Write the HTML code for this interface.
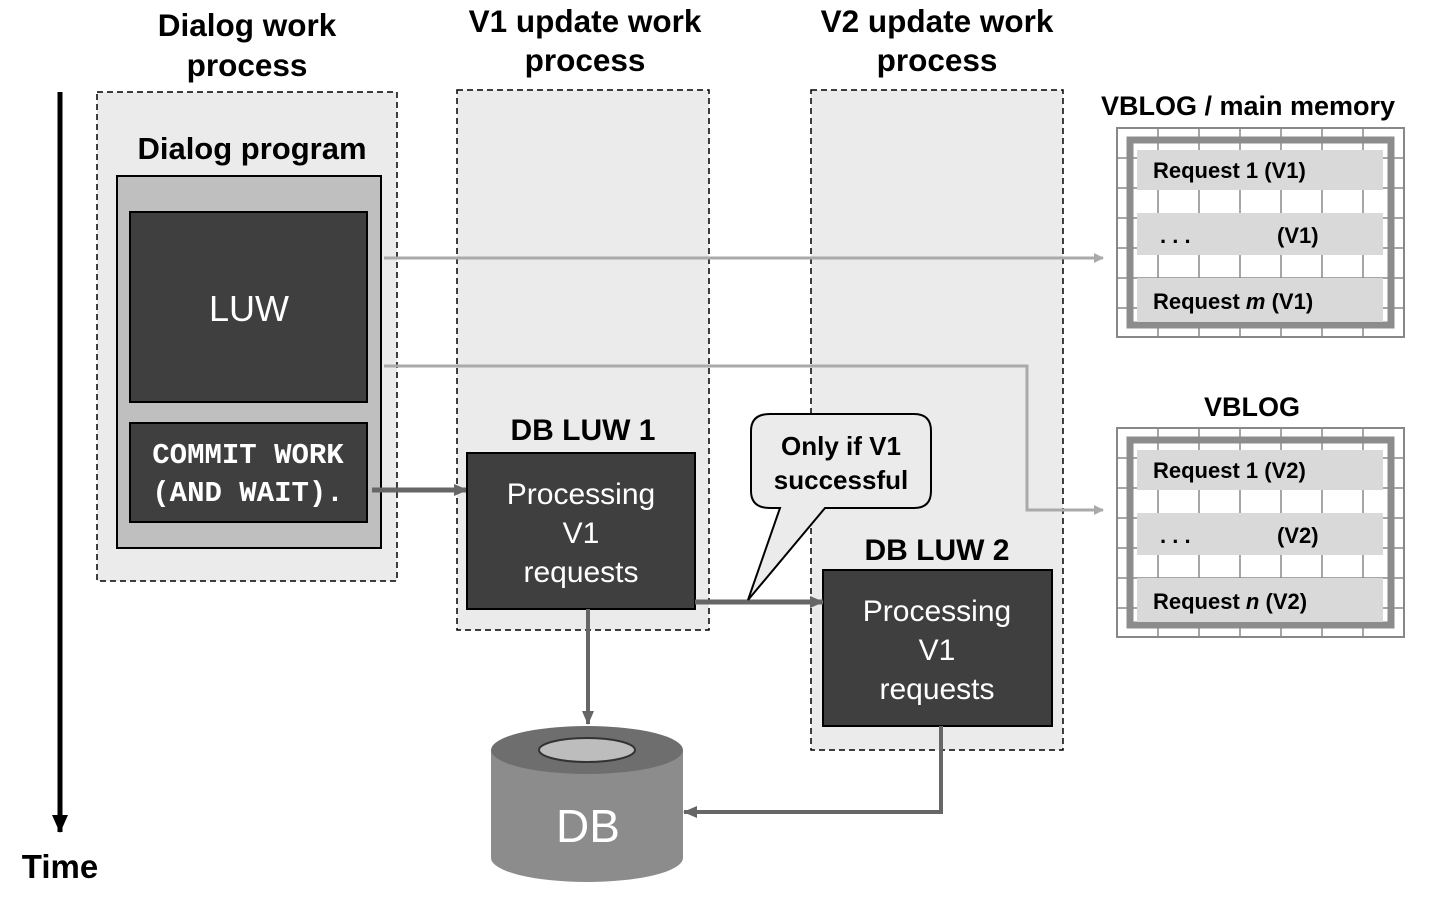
<!DOCTYPE html>
<html><head><style>
body{margin:0;background:#fff;}
svg{display:block;font-family:"Liberation Sans",Arial,sans-serif;}
</style></head><body>
<svg width="1440" height="900" viewBox="0 0 1440 900" xmlns="http://www.w3.org/2000/svg">
<defs>
<marker id="ag" markerWidth="10" markerHeight="10" refX="9" refY="5" orient="auto" markerUnits="userSpaceOnUse"><path d="M0,0 L10,5 L0,10 z" fill="#aaa"/></marker>
<marker id="ad" markerWidth="14" markerHeight="12" refX="13" refY="6" orient="auto" markerUnits="userSpaceOnUse"><path d="M0,0 L14,6 L0,12 z" fill="#666"/></marker>
<marker id="ab" markerWidth="18" markerHeight="16" refX="17" refY="8" orient="auto" markerUnits="userSpaceOnUse"><path d="M0,0 L18,8 L0,16 z" fill="#000"/></marker>
</defs>
<line x1="60" y1="92" x2="60" y2="832" stroke="#000" stroke-width="5" marker-end="url(#ab)"/>
<text x="60" y="878" font-size="33" font-weight="bold" text-anchor="middle">Time</text>
<g font-size="31.5" font-weight="bold" text-anchor="middle">
<text x="247" y="36">Dialog work</text><text x="247" y="76">process</text>
<text x="585" y="32">V1 update work</text><text x="585" y="71">process</text>
<text x="937" y="32">V2 update work</text><text x="937" y="71">process</text>
</g>
<rect x="97" y="92" width="300" height="489" fill="#ebebeb" stroke="#000" stroke-width="1.5" stroke-dasharray="6,4"/>
<rect x="457" y="90" width="252" height="540" fill="#ebebeb" stroke="#000" stroke-width="1.5" stroke-dasharray="6,4"/>
<rect x="811" y="90" width="252" height="660" fill="#ebebeb" stroke="#000" stroke-width="1.5" stroke-dasharray="6,4"/>
<text x="252" y="159" font-size="31" font-weight="bold" text-anchor="middle">Dialog program</text>
<rect x="117" y="176" width="264" height="372" fill="#bfbfbf" stroke="#000" stroke-width="2"/>
<rect x="130" y="212" width="237" height="190" fill="#3f3f3f" stroke="#000" stroke-width="2"/>
<text x="249" y="321" font-size="36" fill="#fff" text-anchor="middle">LUW</text>
<rect x="130" y="423" width="237" height="99" fill="#3f3f3f" stroke="#000" stroke-width="2"/>
<g font-family="Liberation Mono,monospace" font-size="29" font-weight="bold" fill="#fff" text-anchor="middle">
<text x="248" y="463">COMMIT WORK</text><text x="248" y="501">(AND WAIT).</text>
</g>
<line x1="384" y1="258" x2="1103" y2="258" stroke="#aaa" stroke-width="3" marker-end="url(#ag)"/>
<polyline points="384,366 1027,366 1027,510 1103,510" fill="none" stroke="#aaa" stroke-width="3" marker-end="url(#ag)"/>
<line x1="372" y1="490" x2="467" y2="490" stroke="#666" stroke-width="5" marker-end="url(#ad)"/>
<text x="583" y="440" font-size="30" font-weight="bold" text-anchor="middle">DB LUW 1</text>
<rect x="467" y="453" width="228" height="156" fill="#3f3f3f" stroke="#000" stroke-width="2"/>
<g font-size="30" fill="#fff" text-anchor="middle">
<text x="581" y="504">Processing</text><text x="581" y="543">V1</text><text x="581" y="582">requests</text>
</g>
<text x="937" y="560" font-size="30" font-weight="bold" text-anchor="middle">DB LUW 2</text>
<rect x="823" y="570" width="229" height="156" fill="#3f3f3f" stroke="#000" stroke-width="2"/>
<g font-size="30" fill="#fff" text-anchor="middle">
<text x="937" y="621">Processing</text><text x="937" y="660">V1</text><text x="937" y="699">requests</text>
</g>
<line x1="695" y1="602" x2="823" y2="602" stroke="#666" stroke-width="5" marker-end="url(#ad)"/>
<line x1="588" y1="609" x2="588" y2="724" stroke="#666" stroke-width="4" marker-end="url(#ad)"/>
<polyline points="941,726 941,812 684,812" fill="none" stroke="#666" stroke-width="4" marker-end="url(#ad)"/>
<path d="M770,414 H914 Q931,414 931,431 V491 Q931,508 914,508 H825 L748,600 L780,508 H770 Q751,508 751,491 V431 Q751,414 770,414 Z" fill="#ebebeb" stroke="#000" stroke-width="2"/>
<g font-size="26" font-weight="bold" text-anchor="middle">
<text x="841" y="455">Only if V1</text><text x="841" y="489">successful</text>
</g>
<path d="M491,750 V858 A96,24 0 0 0 683,858 V750 Z" fill="#8c8c8c"/>
<ellipse cx="587" cy="750" rx="96" ry="24" fill="#6e6e6e"/>
<ellipse cx="587" cy="750" rx="48" ry="12" fill="#bdbdbd" stroke="#333" stroke-width="2"/>
<text x="588" y="842" font-size="46" fill="#fff" text-anchor="middle">DB</text>
<text x="1248" y="115" font-size="27" font-weight="bold" text-anchor="middle">VBLOG / main memory</text>
<g id="vb1">
<rect x="1117" y="128" width="287" height="209" fill="#fff" stroke="#888" stroke-width="2"/>
<g stroke="#888" stroke-width="1.5">
<line x1="1158" y1="128" x2="1158" y2="337"/><line x1="1199" y1="128" x2="1199" y2="337"/><line x1="1240" y1="128" x2="1240" y2="337"/><line x1="1281" y1="128" x2="1281" y2="337"/><line x1="1322" y1="128" x2="1322" y2="337"/><line x1="1363" y1="128" x2="1363" y2="337"/>
<line x1="1117" y1="158" x2="1404" y2="158"/><line x1="1117" y1="188" x2="1404" y2="188"/><line x1="1117" y1="218" x2="1404" y2="218"/><line x1="1117" y1="248" x2="1404" y2="248"/><line x1="1117" y1="278" x2="1404" y2="278"/><line x1="1117" y1="308" x2="1404" y2="308"/>
</g>
<rect x="1130" y="140" width="261" height="185" fill="none" stroke="#8c8c8c" stroke-width="7"/>
<rect x="1137" y="150" width="246" height="40" fill="#d9d9d9"/>
<rect x="1137" y="213" width="246" height="42" fill="#d9d9d9"/>
<rect x="1137" y="278" width="246" height="44" fill="#d9d9d9"/>
</g>
<g font-size="22" font-weight="bold">
<text x="1153" y="178">Request 1 (V1)</text>
<text x="1160" y="243">. . .</text><text x="1277" y="243">(V1)</text>
<text x="1153" y="309">Request <tspan font-style="italic">m</tspan> (V1)</text>
</g>
<text x="1252" y="416" font-size="27" font-weight="bold" text-anchor="middle">VBLOG</text>
<use href="#vb1" transform="translate(0,300)"/>
<g font-size="22" font-weight="bold">
<text x="1153" y="478">Request 1 (V2)</text>
<text x="1160" y="543">. . .</text><text x="1277" y="543">(V2)</text>
<text x="1153" y="609">Request <tspan font-style="italic">n</tspan> (V2)</text>
</g>
</svg>
</body></html>
